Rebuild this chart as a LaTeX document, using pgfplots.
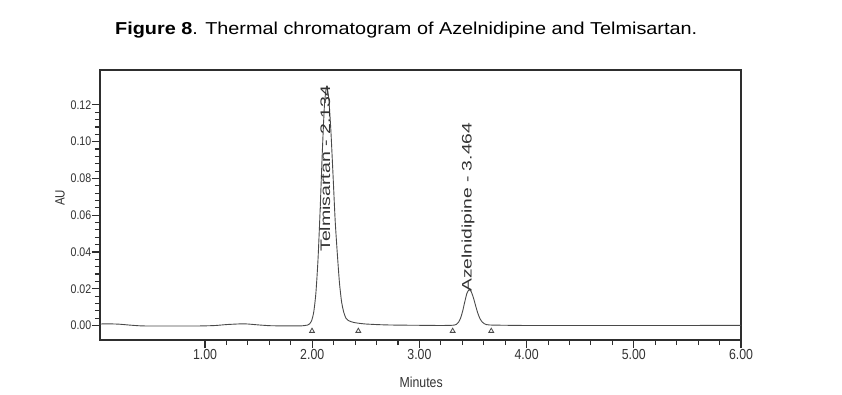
\documentclass[border=0pt]{standalone}
\usepackage{pgfplots}
\pgfplotsset{compat=1.18}
\usepackage{fontspec}
\setmainfont{Liberation Sans}
\newfontfamily\tickfont[FakeStretch=0.85]{Liberation Sans}
\definecolor{axgray}{HTML}{2E2E2E}
\definecolor{curvegray}{HTML}{4A4A4A}
\definecolor{txtgray}{HTML}{333333}
\begin{document}
\begin{tikzpicture}
\useasboundingbox (-100pt,-54pt) rectangle (742pt,340pt);
\begin{axis}[
  at={(0,0)}, anchor=south west,
  scale only axis, width=641pt, height=270pt,
  xmin=0.02, xmax=6.0, ymin=-0.0079, ymax=0.139,
  axis line style={color=axgray, line width=1.1pt},
  xtick={1,2,3,4,5,6}, minor x tick num=4,
  ytick={0,0.02,0.04,0.06,0.08,0.10,0.12}, minor y tick num=4,
  tick align=outside, tick pos=left,
  major tick length=8pt, minor tick length=5pt,
  every tick/.style={color=axgray, line width=1.1pt},
  xticklabel style={font=\tickfont\fontsize{14.5}{14.5}\selectfont, color=txtgray, inner sep=1pt},
  yticklabel style={font=\tickfont\fontsize{12.5}{12.5}\selectfont, color=txtgray, inner sep=0.5pt},
  /pgf/number format/assume math mode=true,
  /pgf/number format/.cd, fixed, fixed zerofill, precision=2, /pgfplots/.cd,
  scaled y ticks=false,
  xlabel={Minutes}, ylabel={AU},
  xlabel style={at={(axis description cs:0.501,-0.156)}, anchor=center, font=\tickfont\fontsize{14.5}{14.5}\selectfont, color=txtgray},
  ylabel style={at={(axis description cs:-0.0624,0.526)}, anchor=center, font=\tickfont\fontsize{13.5}{13.5}\selectfont, color=txtgray},
  clip=true,
]
\addplot[color=curvegray, line width=0.9pt, smooth, tension=0.4] coordinates {
(0.02,0.0008) (0.10,0.0009) (0.20,0.0007) (0.30,0.0002) (0.40,-0.0002)
(0.50,-0.0003) (0.60,-0.0003) (0.70,-0.0003) (0.80,-0.0003) (0.90,-0.0003)
(1.00,-0.0002) (1.10,0.0000) (1.20,0.0005) (1.30,0.0008) (1.35,0.0009)
(1.40,0.0008) (1.50,0.0003) (1.60,-0.0001) (1.70,-0.0002) (1.80,-0.0002)
(1.90,-0.0002) (1.954,0.0002) (1.974,0.0008) (1.994,0.0026) (2.014,0.0073)
(2.034,0.0176) (2.054,0.0361) (2.074,0.0633) (2.094,0.0944) (2.114,0.1200)
(2.134,0.1300) (2.154,0.1236) (2.174,0.1058) (2.194,0.0818) (2.214,0.0570)
(2.234,0.0390) (2.254,0.0232) (2.274,0.0128) (2.294,0.0072) (2.314,0.0040)
(2.334,0.0028) (2.36,0.0021) (2.40,0.0015) (2.45,0.0011) (2.50,0.0008)
(2.60,0.0005) (2.70,0.0003) (2.80,0.0002) (3.00,0.0001) (3.20,0.0000)
(3.30,0.0001) (3.324,0.0002) (3.344,0.0006) (3.364,0.0017) (3.384,0.0040)
(3.404,0.0080) (3.424,0.0131) (3.444,0.0177) (3.464,0.0195) (3.484,0.0183)
(3.504,0.0150) (3.524,0.0108) (3.544,0.0068) (3.564,0.0038) (3.584,0.0020)
(3.604,0.0010) (3.624,0.0005) (3.65,0.0003) (3.70,0.0002) (4.00,0.0000)
(4.50,0.0000) (5.00,0.0000) (5.50,0.0000) (6.00,0.0001)
};
\addplot[only marks, mark=triangle, mark size=2.8pt, color=curvegray, mark options={line width=0.8pt}] coordinates {
(1.998,-0.0030) (2.43,-0.0030) (3.31,-0.0030) (3.67,-0.0030)
};
\node[rotate=90, anchor=west, inner sep=0pt, color=txtgray] at (axis cs:2.12,0.040)
  {\resizebox{166pt}{10pt}{Telmisartan - 2.134}};
\node[rotate=90, anchor=west, inner sep=0pt, color=txtgray] at (axis cs:3.453,0.0182)
  {\resizebox{169pt}{10pt}{Azelnidipine - 3.464}};
\end{axis}
\node[anchor=base west, inner sep=0pt, color=black] at (15pt,305pt)
  {\resizebox{582pt}{12.5pt}{\textbf{Figure 8}. Thermal chromatogram of Azelnidipine and Telmisartan.}};
\end{tikzpicture}
\end{document}
